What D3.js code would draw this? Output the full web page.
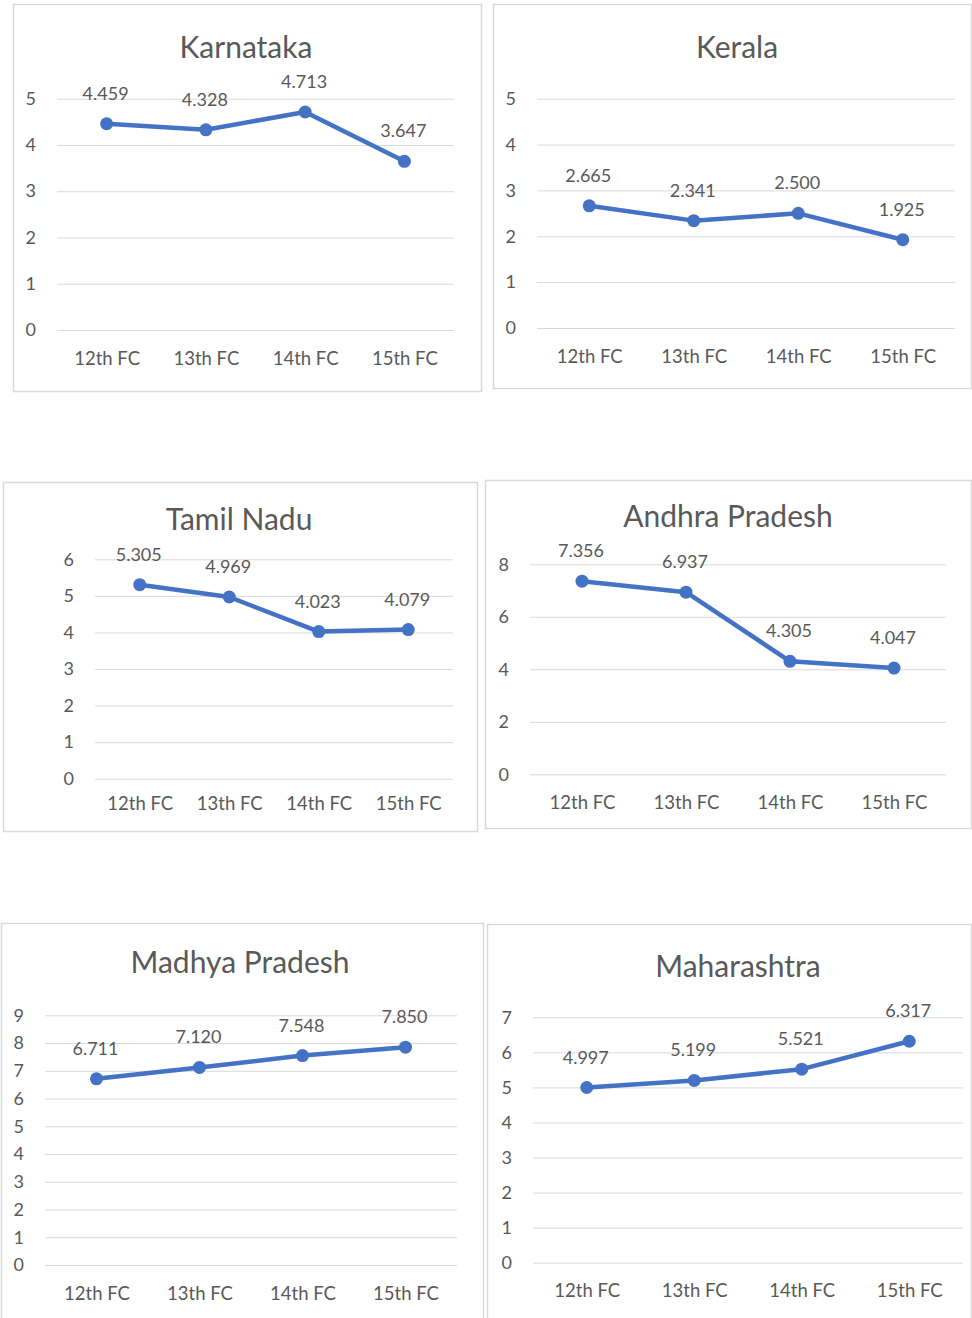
<!DOCTYPE html>
<html>
<head>
<meta charset="utf-8">
<script src="https://cdn.jsdelivr.net/npm/d3@7"></script>
<style>
  body { margin: 0; background: #fff; }
  svg text { font-family: Lato, "Open Sans", sans-serif; fill: #595959; }
</style>
</head>
<body>
<div id="chart"></div>
<script>
// categories shared by every panel
const categories = ["12th FC", "13th FC", "14th FC", "15th FC"];

// states and their values
const states = ["Karnataka", "Kerala", "Tamil Nadu", "Andhra Pradesh", "Madhya Pradesh", "Maharashtra"];
const karnataka = [4.459, 4.328, 4.713, 3.647];
const kerala = [2.665, 2.341, 2.500, 1.925];
const tamilNadu = [5.305, 4.969, 4.023, 4.079];
const andhraPradesh = [7.356, 6.937, 4.305, 4.047];
const madhyaPradesh = [6.711, 7.120, 7.548, 7.850];
const maharashtra = [4.997, 5.199, 5.521, 6.317];
const series = [karnataka, kerala, tamilNadu, andhraPradesh, madhyaPradesh, maharashtra];

// y axis max and tick step for each panel
const yMax = [5, 5, 6, 8, 9, 7];
const yStep = [1, 1, 1, 2, 1, 1];

// panel geometry: box, plot area, title position
const layout = [
  { box: [13, 4, 481, 391], x0: 57, x1: 454, yTop: 98.7, yBot: 330, tx: 246, ty: 58, xpad: 22 },
  { box: [493, 4, 971, 388], x0: 537, x1: 955, yTop: 98.7, yBot: 328, tx: 737, ty: 58, xpad: 22 },
  { box: [3, 482, 477, 831], x0: 95, x1: 453, yTop: 559.3, yBot: 778.7, tx: 239, ty: 530, xpad: 18 },
  { box: [485, 480, 971, 828], x0: 530, x1: 946, yTop: 564.3, yBot: 774.3, tx: 728, ty: 527, xpad: 22 },
  { box: [1, 923, 483, 1330], x0: 45, x1: 457, yTop: 1015.3, yBot: 1265, tx: 240, ty: 973, xpad: 22 },
  { box: [487, 924, 971, 1330], x0: 533, x1: 963, yTop: 1017.3, yBot: 1262.7, tx: 738, ty: 977, xpad: 21 }
];

const lineColor = "#4472C4";
const gridColor = "#d9d9d9";

const svg = d3.select("#chart")
  .append("svg")
  .attr("width", 972)
  .attr("height", 1318);

function drawPanel(i) {
  const L = layout[i];
  const values = series[i];
  const g = svg.append("g").attr("class", "panel");

  // panel border
  g.append("rect")
    .attr("x", L.box[0] + 0.5)
    .attr("y", L.box[1] + 0.5)
    .attr("width", L.box[2] - L.box[0])
    .attr("height", L.box[3] - L.box[1])
    .attr("fill", "#fff")
    .attr("stroke", gridColor)
    .attr("stroke-width", 1.5);

  const x = d3.scalePoint().domain(categories).range([L.x0, L.x1]).padding(0.5);
  const y = d3.scaleLinear().domain([0, yMax[i]]).range([L.yBot, L.yTop]);

  // y axis with gridlines
  const yAxis = g.append("g")
    .attr("transform", "translate(" + L.x0 + ",0)")
    .call(d3.axisLeft(y)
      .tickValues(d3.range(0, yMax[i] + yStep[i] / 2, yStep[i]))
      .tickSize(-(L.x1 - L.x0))
      .tickPadding(21)
      .tickFormat(d3.format("d")));
  yAxis.select(".domain").remove();
  yAxis.selectAll(".tick line").attr("stroke", gridColor).attr("stroke-width", 1);
  yAxis.selectAll(".tick text")
    .attr("font-size", 18)
    .attr("fill", "#595959");

  // x axis labels
  const xAxis = g.append("g")
    .attr("transform", "translate(0," + L.yBot + ")")
    .call(d3.axisBottom(x).tickSize(0).tickPadding(L.xpad));
  xAxis.select(".domain").remove();
  xAxis.selectAll(".tick text")
    .attr("font-size", 18.5)
    .attr("fill", "#595959");

  // title
  g.append("text")
    .attr("x", L.tx)
    .attr("y", L.ty)
    .attr("text-anchor", "middle")
    .attr("font-size", 30)
    .text(states[i]);

  // line
  const line = d3.line()
    .x(function (d, j) { return x(categories[j]); })
    .y(function (d) { return y(d); });

  g.append("path")
    .datum(values)
    .attr("fill", "none")
    .attr("stroke", lineColor)
    .attr("stroke-width", 4.5)
    .attr("stroke-linejoin", "round")
    .attr("d", line);

  // markers
  g.selectAll("circle.marker")
    .data(values)
    .enter()
    .append("circle")
    .attr("class", "marker")
    .attr("cx", function (d, j) { return x(categories[j]); })
    .attr("cy", function (d) { return y(d); })
    .attr("r", 6.5)
    .attr("fill", lineColor);

  // data labels
  g.selectAll("text.value")
    .data(values)
    .enter()
    .append("text")
    .attr("class", "value")
    .attr("x", function (d, j) { return x(categories[j]) - 1; })
    .attr("y", function (d) { return y(d) - 24; })
    .attr("text-anchor", "middle")
    .attr("font-size", 18)
    .text(function (d) { return d3.format(".3f")(d); });
}

states.forEach(function (s, i) { drawPanel(i); });
</script>
</body>
</html>
